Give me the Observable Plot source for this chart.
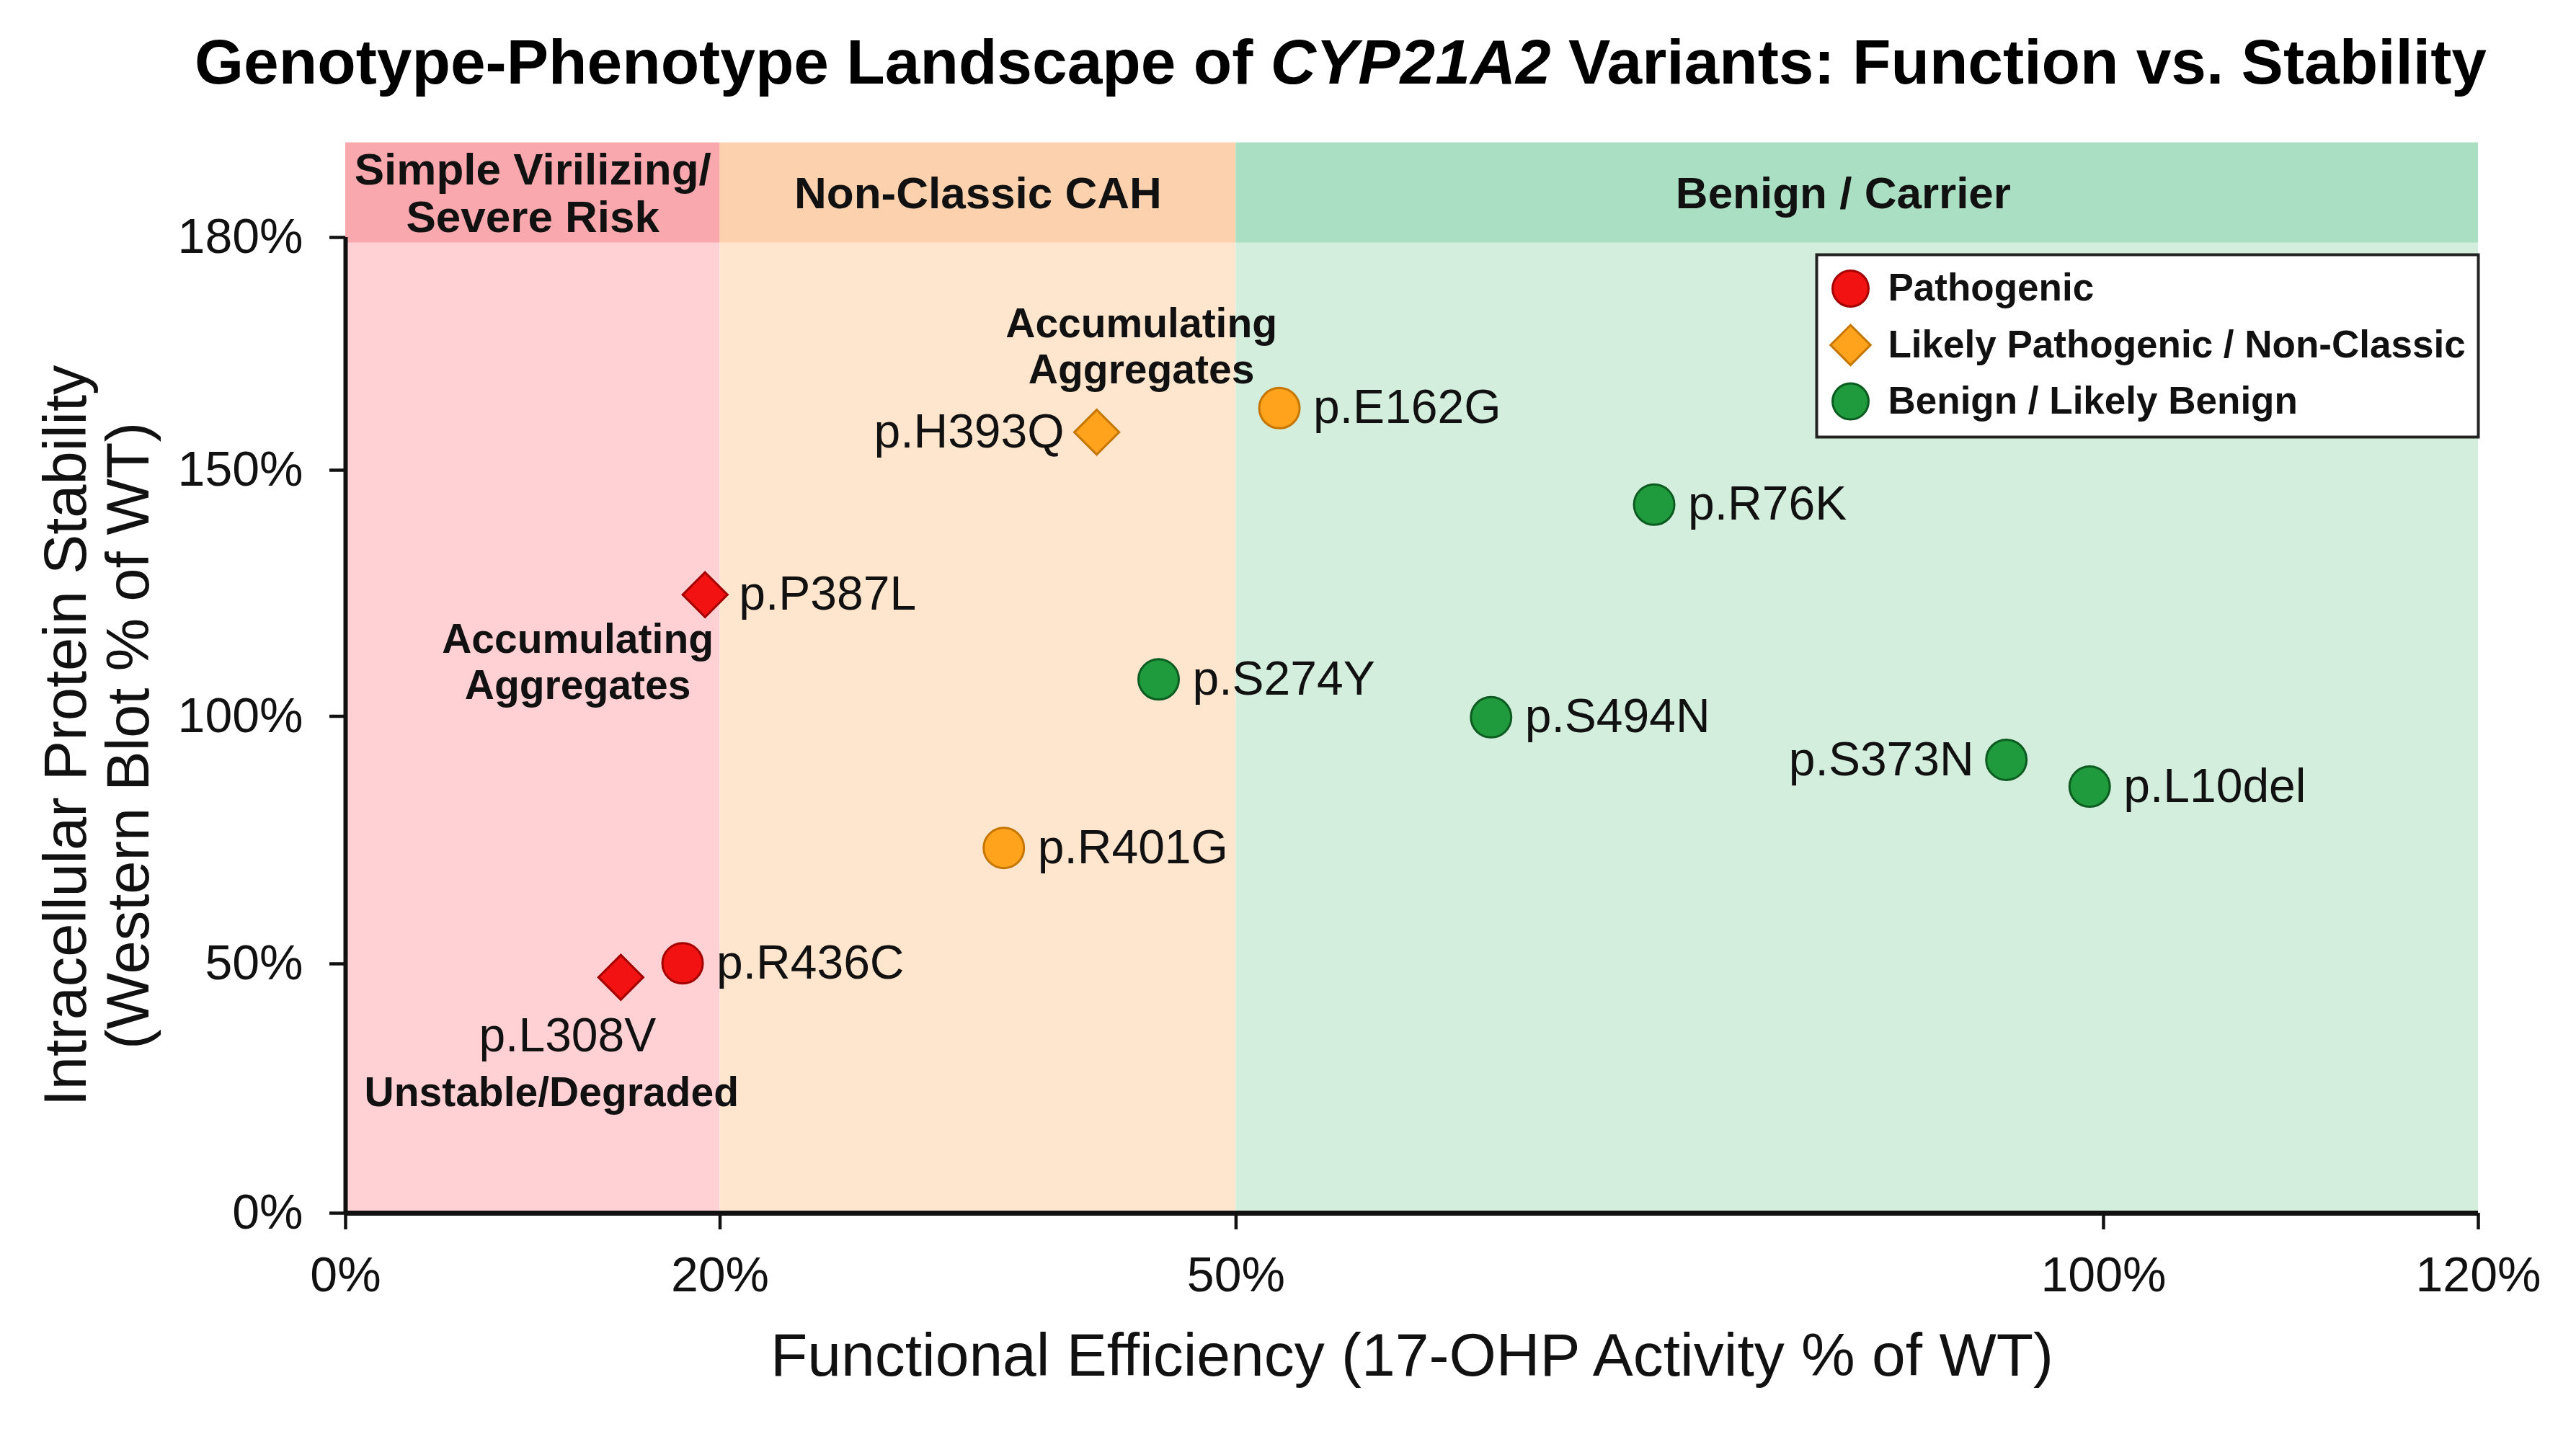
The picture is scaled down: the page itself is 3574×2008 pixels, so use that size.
<!DOCTYPE html>
<html>
<head>
<meta charset="utf-8">
<script src="https://cdn.jsdelivr.net/npm/d3@7"></script>
<script src="https://cdn.jsdelivr.net/npm/@observablehq/plot@0.6"></script>
<style>
  html, body { margin: 0; padding: 0; background: #ffffff; }
  body { width: 3574px; height: 2008px; overflow: hidden; font-family: "Liberation Sans", Arial, Helvetica, sans-serif; }
  #title { height: 150px; box-sizing: border-box; padding-top: 43px; padding-left: 146px; text-align: center;
           font-size: 87.5px; line-height: 86px; font-weight: bold; color: #000; white-space: nowrap; }
  #chart svg { display: block; }
</style>
</head>
<body>
<div id="title">Genotype-Phenotype Landscape of <i>CYP21A2</i> Variants: Function vs. Stability</div>
<div id="chart"></div>
<script>
// ---------------- data ----------------
const variants       = ["p.P387L", "p.R436C", "p.L308V", "p.H393Q", "p.E162G", "p.R401G", "p.S274Y", "p.R76K", "p.S494N", "p.S373N", "p.L10del"];
const activity       = [19.2, 18.0, 14.7, 41.9, 52.5, 36.5, 45.5, 74.1, 64.7, 94.4, 99.2];      // % of WT
const stability      = [124.7, 50.1, 47.3, 154.9, 158.0, 73.4, 107.5, 143.0, 99.8, 91.2, 85.8]; // % of WT
const classification = ["Pathogenic", "Pathogenic", "Pathogenic",
                        "Likely Pathogenic / Non-Classic", "Likely Pathogenic / Non-Classic", "Likely Pathogenic / Non-Classic",
                        "Benign / Likely Benign", "Benign / Likely Benign", "Benign / Likely Benign", "Benign / Likely Benign", "Benign / Likely Benign"];
const markerShape    = ["diamond", "circle", "diamond", "diamond", "circle", "circle", "circle", "circle", "circle", "circle", "circle"];

const zoneNames  = ["Simple Virilizing/\nSevere Risk", "Non-Classic CAH", "Benign / Carrier"];
const zoneStart  = [0, 20, 50];
const zoneEnd    = [20, 50, 120];

const xTicks = [0, 20, 50, 100, 120];
const yTicks = [0, 50, 100, 150, 180];

const noteTexts = ["Accumulating\nAggregates", "Accumulating\nAggregates", "Unstable/Degraded"];
const noteX     = [44.5, 12.4, 11.0];
const noteY     = [166.1, 111.2, 24.4];

const legendLabels = ["Pathogenic", "Likely Pathogenic / Non-Classic", "Benign / Likely Benign"];
const legendShapes = ["circle", "diamond", "circle"];

const xTitle = "Functional Efficiency (17-OHP Activity % of WT)";
const yTitle = "Intracellular Protein Stability\n(Western Blot % of WT)";

// ---------------- styling / layout ----------------
const fillOf   = {"Pathogenic": "#f21212", "Likely Pathogenic / Non-Classic": "#ffa31c", "Benign / Likely Benign": "#1f9a3d"};
const strokeOf = {"Pathogenic": "#a30000", "Likely Pathogenic / Non-Classic": "#c57600", "Benign / Likely Benign": "#0c5c21"};
const symbolOf = {circle: "circle", diamond: "diamond2"};
const zoneFill   = ["#ffd1d5", "#fee5cd", "#d3eedc"];
const zoneHeader = ["#f9a8ad", "#fcd2ae", "#aadfc3"];
const leftLabeled  = new Set(["p.H393Q", "p.S373N"]);
const belowLabeled = new Set(["p.L308V"]);

const W = 3574, H = 2008 - 150;
const yTop = 192.2, headerBottom = 179.3;
const xRange = [479, 998.5, 1714.4, 2918, 3438];
const yDomain = [0, 50, 100, 150, 180, yTop];
const yRange  = [1533, 1187, 843.5, 502, 179, 47.7];

const points = variants.map((v, i) => ({
  name: v, x: activity[i], y: stability[i], cls: classification[i], shape: markerShape[i]
}));
const zones = zoneNames.map((n, i) => ({name: n, x1: zoneStart[i], x2: zoneEnd[i], fill: zoneFill[i], head: zoneHeader[i]}));
const notes = noteTexts.map((t, i) => ({text: t, x: noteX[i], y: noteY[i]}));

const pct = d => d + "%";
const font = "'Liberation Sans', Arial, Helvetica, sans-serif";

const legendMarks = legendLabels.flatMap((lab, i) => [
  Plot.dot([lab], {frameAnchor: "top-right", dx: -871, dy: 202.3 + i * 78.3, r: 25,
    symbol: symbolOf[legendShapes[i]], fill: fillOf[lab], stroke: strokeOf[lab], strokeWidth: 3}),
  Plot.text([lab], {frameAnchor: "top-right", dx: -819, dy: 202.3 + i * 78.3, text: d => d,
    textAnchor: "start", lineAnchor: "middle", fontSize: 53, fontWeight: "bold", fill: "#111"})
]);

const chart = Plot.plot({
  width: W, height: H,
  marginLeft: 479, marginRight: W - 3438, marginTop: 47.7, marginBottom: H - 1533,
  style: {fontFamily: font, fontSize: "68px", color: "#111", background: "transparent"},
  x: {type: "linear", domain: xTicks, range: xRange},
  y: {type: "linear", domain: yDomain, range: yRange},
  color: {type: "identity"},
  marks: [
    // zones
    Plot.rect(zones, {x1: "x1", x2: "x2", y1: 0, y2: yTop, fill: "fill"}),
    Plot.rect(zones, {x1: "x1", x2: "x2", y1: headerBottom, y2: yTop, fill: "head"}),
    Plot.text(zones, {x: d => (d.x1 + d.x2) / 2, y: (headerBottom + yTop) / 2, text: "name",
      fontSize: 62, fontWeight: "bold", lineHeight: 1.07, fill: "#111"}),
    // axes
    Plot.axisX(xTicks, {tickSize: 23, tickPadding: 37, tickFormat: pct, fontSize: 68, strokeWidth: 4.5, label: null, fill: "#111"}),
    Plot.axisY(yTicks, {tickSize: 22, tickPadding: 37, tickFormat: pct, fontSize: 68, strokeWidth: 4.5, label: null, fill: "#111"}),
    Plot.ruleY([0], {strokeWidth: 7, stroke: "#111"}),
    Plot.ruleX([0], {y1: 0, y2: 180, strokeWidth: 6, stroke: "#111"}),
    // annotations
    Plot.text(notes, {x: "x", y: "y", text: "text", fontSize: 57, fontWeight: "bold", lineHeight: 1.12, fill: "#111"}),
    // points
    Plot.dot(points, {x: "x", y: "y", r: 28, symbol: d => symbolOf[d.shape],
      fill: d => fillOf[d.cls], stroke: d => strokeOf[d.cls], strokeWidth: 3}),
    // labels
    Plot.text(points.filter(d => !leftLabeled.has(d.name) && !belowLabeled.has(d.name)),
      {x: "x", y: "y", text: "name", dx: 47, textAnchor: "start", fontSize: 66, fill: "#111"}),
    Plot.text(points.filter(d => leftLabeled.has(d.name)),
      {x: "x", y: "y", text: "name", dx: -45, textAnchor: "end", fontSize: 66, fill: "#111"}),
    Plot.text(points.filter(d => belowLabeled.has(d.name)),
      {x: "x", y: "y", text: "name", dx: -74, dy: 82, textAnchor: "middle", fontSize: 66, fill: "#111"}),
    // legend
    Plot.frame({fill: "white", stroke: "#222", strokeWidth: 4, insetLeft: 2041, insetTop: 155.3, insetBottom: 1077}),
    ...legendMarks,
    // axis titles
    Plot.text([xTitle], {frameAnchor: "bottom", dy: 225, text: d => d, fontSize: 84, fill: "#111"}),
    Plot.text([yTitle], {frameAnchor: "left", dx: -344.5, dy: 80, rotate: -90, text: d => d,
      textAnchor: "middle", fontSize: 83, lineHeight: 1.05, fill: "#111"})
  ]
});
document.getElementById("chart").appendChild(chart);
</script>
</body>
</html>
